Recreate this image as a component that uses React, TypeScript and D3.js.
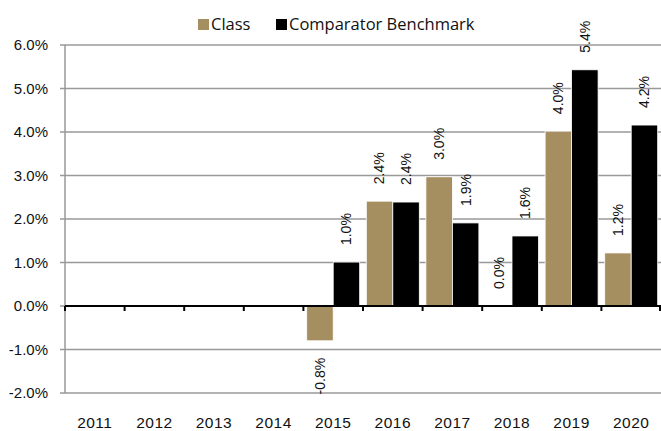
import { useEffect, useRef } from "react";
import * as d3 from "d3";

const years = ["2011", "2012", "2013", "2014", "2015", "2016", "2017", "2018", "2019", "2020"];
const classValues: (number | null)[] = [null, null, null, null, -0.8, 2.41, 2.97, 0.0, 4.02, 1.22];
const benchValues: (number | null)[] = [null, null, null, null, 1.01, 2.39, 1.91, 1.61, 5.43, 4.16];
const yTicks = [-2, -1, 0, 1, 2, 3, 4, 5, 6];

const GOLD = "#A58F60";
const BLACK = "#000000";
const GRID = "#999999";

const pct = (v: number) => d3.format(".1f")(v).replace("\u2212", "-") + "%";

export default function App() {
  const svgRef = useRef<SVGSVGElement>(null);

  useEffect(() => {
    const width = 661;
    const height = 431;
    const svg = d3.select(svgRef.current);
    svg.selectAll("*").remove();
    svg.attr("width", width).attr("height", height);

    const x0 = d3.scaleBand().domain(years).range([65, 661]).padding(0);
    const x1 = d3
      .scaleBand()
      .domain(["class", "bench"])
      .range([0, x0.bandwidth()])
      .paddingInner(0)
      .paddingOuter(0.125);
    const y = d3.scaleLinear().domain([-2, 6]).range([393, 45]);

    // gridlines
    svg
      .append("g")
      .selectAll("line")
      .data(yTicks.filter((t) => t !== 0))
      .join("line")
      .attr("x1", 60)
      .attr("x2", 661)
      .attr("y1", (d) => y(d))
      .attr("y2", (d) => y(d))
      .attr("stroke", GRID)
      .attr("stroke-width", 1.5);

    svg
      .append("line")
      .attr("x1", 60)
      .attr("x2", 65)
      .attr("y1", y(0))
      .attr("y2", y(0))
      .attr("stroke", GRID)
      .attr("stroke-width", 1.5);

    // left axis line
    svg
      .append("line")
      .attr("x1", 65)
      .attr("x2", 65)
      .attr("y1", y(6))
      .attr("y2", y(-2))
      .attr("stroke", GRID)
      .attr("stroke-width", 1.5);

    // y tick labels
    svg
      .append("g")
      .selectAll("text")
      .data(yTicks)
      .join("text")
      .attr("x", 48)
      .attr("y", (d) => y(d))
      .attr("dy", "0.35em")
      .attr("text-anchor", "end")
      .attr("font-family", "Liberation Sans, Arial, sans-serif")
      .attr("font-size", 15)
      .attr("fill", "#111")
      .text((d) => pct(d));

    type Bar = { year: string; key: string; value: number };
    const bars: Bar[] = [];
    years.forEach((yr, i) => {
      if (classValues[i] !== null) bars.push({ year: yr, key: "class", value: classValues[i] as number });
      if (benchValues[i] !== null) bars.push({ year: yr, key: "bench", value: benchValues[i] as number });
    });

    const bx = (d: Bar) => (x0(d.year) as number) + (x1(d.key) as number);

    svg
      .append("g")
      .selectAll("rect")
      .data(bars)
      .join("rect")
      .attr("x", (d) => bx(d))
      .attr("width", x1.bandwidth())
      .attr("y", (d) => y(Math.max(0, d.value)))
      .attr("height", (d) => Math.abs(y(d.value) - y(0)))
      .attr("fill", (d) => (d.key === "class" ? GOLD : BLACK))
      .attr("stroke", "#fff")
      .attr("stroke-width", 0.8);

    // zero axis
    svg
      .append("line")
      .attr("x1", 65)
      .attr("x2", 661)
      .attr("y1", y(0))
      .attr("y2", y(0))
      .attr("stroke", "#000")
      .attr("stroke-width", 2);

    svg
      .append("g")
      .selectAll("line")
      .data(years.concat(["end"]))
      .join("line")
      .attr("x1", (d) => (d === "end" ? 660 : (x0(d) as number)))
      .attr("x2", (d) => (d === "end" ? 660 : (x0(d) as number)))
      .attr("y1", y(0))
      .attr("y2", y(0) + 5)
      .attr("stroke", "#000")
      .attr("stroke-width", 2);

    // year labels
    svg
      .append("g")
      .selectAll("text")
      .data(years)
      .join("text")
      .attr("x", (d) => (x0(d) as number) + x0.bandwidth() / 2)
      .attr("y", 428)
      .attr("text-anchor", "middle")
      .attr("font-family", "Liberation Sans, Arial, sans-serif")
      .attr("font-size", 15.5)
      .attr("letter-spacing", 0.5)
      .attr("fill", "#111")
      .text((d) => d);

    // value labels (rotated)
    svg
      .append("g")
      .selectAll("text")
      .data(bars)
      .join("text")
      .attr("transform", (d) => {
        const cx = bx(d) + x1.bandwidth() / 2;
        const cy = d.value >= 0 ? y(d.value) - 17 : y(d.value) + 17;
        return `translate(${cx},${cy}) rotate(-90)`;
      })
      .attr("dy", "0.35em")
      .attr("text-anchor", (d) => (d.value >= 0 ? "start" : "end"))
      .attr("font-family", "Liberation Sans, Arial, sans-serif")
      .attr("font-size", 14)
      .attr("fill", "#111")
      .text((d) => pct(d.value));

    // legend
    const legend = svg.append("g").attr("font-family", "Open Sans, sans-serif").attr("font-size", 16.5);
    const items = [
      { label: "Class", color: GOLD, x: 198 },
      { label: "Comparator Benchmark", color: BLACK, x: 276 },
    ];
    items.forEach((it) => {
      legend.append("rect").attr("x", it.x).attr("y", 19).attr("width", 11).attr("height", 11).attr("fill", it.color);
      legend
        .append("text")
        .attr("x", it.x + 13)
        .attr("y", 30)
        .attr("fill", "#111")
        .text(it.label);
    });
  }, []);

  return (
    <div style={{ position: "absolute", left: 0, top: 0 }}>
      <svg ref={svgRef} style={{ display: "block" }} />
    </div>
  );
}
